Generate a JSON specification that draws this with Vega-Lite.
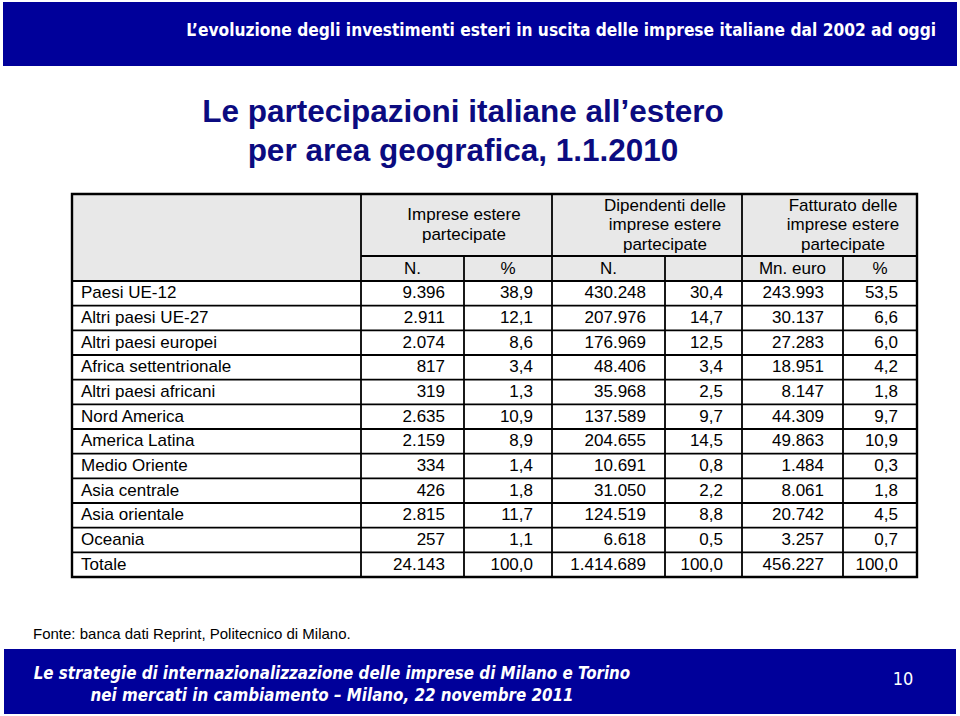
{
  "$schema": "https://vega.github.io/schema/vega-lite/v6.json",
  "width": 960,
  "height": 716,
  "autosize": {"type": "fit", "contains": "padding"},
  "padding": 0,
  "background": "white",
  "config": {
    "view": {"stroke": null},
    "locale": {"number": {"decimal": ",", "thousands": ".", "grouping": [3], "currency": ["€", ""]}}
  },
  "datasets": {
    "table": [
      {"row": 1, "region": "Paesi UE-12", "imp_n": 9396, "imp_pct": 38.9, "dip_n": 430248, "dip_pct": 30.4, "fat_mn": 243993, "fat_pct": 53.5},
      {"row": 2, "region": "Altri paesi UE-27", "imp_n": 2911, "imp_pct": 12.1, "dip_n": 207976, "dip_pct": 14.7, "fat_mn": 30137, "fat_pct": 6.6},
      {"row": 3, "region": "Altri paesi europei", "imp_n": 2074, "imp_pct": 8.6, "dip_n": 176969, "dip_pct": 12.5, "fat_mn": 27283, "fat_pct": 6.0},
      {"row": 4, "region": "Africa settentrionale", "imp_n": 817, "imp_pct": 3.4, "dip_n": 48406, "dip_pct": 3.4, "fat_mn": 18951, "fat_pct": 4.2},
      {"row": 5, "region": "Altri paesi africani", "imp_n": 319, "imp_pct": 1.3, "dip_n": 35968, "dip_pct": 2.5, "fat_mn": 8147, "fat_pct": 1.8},
      {"row": 6, "region": "Nord America", "imp_n": 2635, "imp_pct": 10.9, "dip_n": 137589, "dip_pct": 9.7, "fat_mn": 44309, "fat_pct": 9.7},
      {"row": 7, "region": "America Latina", "imp_n": 2159, "imp_pct": 8.9, "dip_n": 204655, "dip_pct": 14.5, "fat_mn": 49863, "fat_pct": 10.9},
      {"row": 8, "region": "Medio Oriente", "imp_n": 334, "imp_pct": 1.4, "dip_n": 10691, "dip_pct": 0.8, "fat_mn": 1484, "fat_pct": 0.3},
      {"row": 9, "region": "Asia centrale", "imp_n": 426, "imp_pct": 1.8, "dip_n": 31050, "dip_pct": 2.2, "fat_mn": 8061, "fat_pct": 1.8},
      {"row": 10, "region": "Asia orientale", "imp_n": 2815, "imp_pct": 11.7, "dip_n": 124519, "dip_pct": 8.8, "fat_mn": 20742, "fat_pct": 4.5},
      {"row": 11, "region": "Oceania", "imp_n": 257, "imp_pct": 1.1, "dip_n": 6618, "dip_pct": 0.5, "fat_mn": 3257, "fat_pct": 0.7},
      {"row": 12, "region": "Totale", "imp_n": 24143, "imp_pct": 100.0, "dip_n": 1414689, "dip_pct": 100.0, "fat_mn": 456227, "fat_pct": 100.0}
    ],
    "columns": [
      {"key": "imp_n", "edge": 2},
      {"key": "imp_pct", "edge": 3},
      {"key": "dip_n", "edge": 4},
      {"key": "dip_pct", "edge": 5},
      {"key": "fat_mn", "edge": 6},
      {"key": "fat_pct", "edge": 7}
    ],
    "edges": [
      {"edge": 1, "top": -2},
      {"edge": 2, "top": -1},
      {"edge": 3, "top": -2},
      {"edge": 4, "top": -1},
      {"edge": 5, "top": -2},
      {"edge": 6, "top": -1}
    ],
    "header": [
      {"text": "Imprese estere\npartecipate", "col": 2, "row": -1.5, "lines": 2},
      {"text": "Dipendenti delle\nimprese estere\npartecipate", "col": 4, "row": -1.5, "lines": 3},
      {"text": "Fatturato delle\nimprese estere\npartecipate", "col": 6, "row": -1.5, "lines": 3},
      {"text": "N.", "col": 1.5, "row": -0.5, "lines": 1},
      {"text": "%", "col": 2.5, "row": -0.5, "lines": 1},
      {"text": "N.", "col": 3.5, "row": -0.5, "lines": 1},
      {"text": "Mn. euro", "col": 5.5, "row": -0.5, "lines": 1},
      {"text": "%", "col": 6.5, "row": -0.5, "lines": 1}
    ]
  },
  "resolve": {"scale": {"x": "independent", "y": "independent"}},
  "layer": [
    {
      "layer": [
        {
          "data": {"values": [{}]},
          "mark": {"type": "rect", "fill": "#00009a"},
          "encoding": {
            "x": {"datum": 3, "type": "quantitative", "scale": {"domain": [0, 960], "range": [0, 960], "nice": false, "zero": false}, "axis": null},
            "x2": {"datum": 957},
            "y": {"datum": 2, "type": "quantitative", "scale": {"domain": [0, 716], "range": [0, 716], "nice": false, "zero": false}, "axis": null},
            "y2": {"datum": 66}
          }
        },
        {
          "data": {"values": [{}]},
          "mark": {"type": "rect", "fill": "#00009a"},
          "encoding": {
            "x": {"datum": 4, "type": "quantitative", "axis": null},
            "x2": {"datum": 956},
            "y": {"datum": 649, "type": "quantitative", "axis": null},
            "y2": {"datum": 714}
          }
        },
        {
          "data": {"values": [{}]},
          "mark": {"type": "text", "text": "L’evoluzione degli investimenti esteri in uscita delle imprese italiane dal 2002 ad oggi", "font": "DejaVu Sans Condensed, sans-serif", "fontWeight": "bold", "fontSize": 17.2, "color": "white", "align": "right", "baseline": "middle"},
          "encoding": {
            "x": {"datum": 936, "type": "quantitative", "axis": null},
            "y": {"datum": 31, "type": "quantitative", "axis": null}
          }
        },
        {
          "data": {"values": [{}]},
          "mark": {"type": "text", "text": ["Le partecipazioni italiane all’estero", "per area geografica, 1.1.2010"], "font": "Liberation Sans", "fontWeight": "bold", "fontSize": 31.5, "lineHeight": 39, "color": "#0b0b80", "align": "center", "baseline": "middle"},
          "encoding": {
            "x": {"datum": 463, "type": "quantitative", "axis": null},
            "y": {"datum": 113, "type": "quantitative", "axis": null}
          }
        },
        {
          "data": {"values": [{}]},
          "mark": {"type": "text", "text": "Fonte: banca dati Reprint, Politecnico di Milano.", "font": "Liberation Sans", "fontSize": 15, "color": "black", "align": "left", "baseline": "middle"},
          "encoding": {
            "x": {"datum": 33, "type": "quantitative", "axis": null},
            "y": {"datum": 634, "type": "quantitative", "axis": null}
          }
        },
        {
          "data": {"values": [{}]},
          "mark": {"type": "text", "text": ["Le strategie di internazionalizzazione delle imprese di Milano e Torino", "nei mercati in cambiamento – Milano, 22 novembre 2011"], "font": "DejaVu Sans Condensed, sans-serif", "fontWeight": "bold", "fontStyle": "italic", "fontSize": 16.8, "lineHeight": 22, "color": "white", "align": "center", "baseline": "middle"},
          "encoding": {
            "x": {"datum": 332, "type": "quantitative", "axis": null},
            "y": {"datum": 674, "type": "quantitative", "axis": null}
          }
        },
        {
          "data": {"values": [{}]},
          "mark": {"type": "text", "text": "10", "font": "DejaVu Sans Condensed, sans-serif", "fontSize": 18, "color": "white", "align": "center", "baseline": "middle"},
          "encoding": {
            "x": {"datum": 903, "type": "quantitative", "axis": null},
            "y": {"datum": 680, "type": "quantitative", "axis": null}
          }
        }
      ]
    },
    {
      "layer": [
        {
          "data": {"values": [{}]},
          "mark": {"type": "rect", "fill": "#e8e8e8"},
          "encoding": {
            "x": {"datum": 0, "type": "quantitative", "scale": {"domain": [0, 1, 2, 3, 4, 5, 6, 7], "range": [72, 361, 464, 552, 665, 742, 843, 917], "nice": false, "zero": false}, "axis": null},
            "x2": {"datum": 7},
            "y": {"datum": -2, "type": "quantitative", "scale": {"domain": [-2, -1, 0, 12], "range": [194, 256, 281, 577], "nice": false, "zero": false}, "axis": null},
            "y2": {"datum": 0}
          }
        },
        {
          "data": {"values": [{}]},
          "mark": {"type": "rule", "color": "black", "strokeWidth": 1.8},
          "encoding": {
            "x": {"datum": 1, "type": "quantitative", "axis": null},
            "x2": {"datum": 7},
            "y": {"datum": -1, "type": "quantitative", "axis": null}
          }
        },
        {
          "data": {"values": [{}]},
          "mark": {"type": "rule", "color": "black", "strokeWidth": 1.8},
          "encoding": {
            "x": {"datum": 0, "type": "quantitative", "axis": null},
            "x2": {"datum": 7},
            "y": {"datum": 0, "type": "quantitative", "axis": null}
          }
        },
        {
          "data": {"name": "table"},
          "mark": {"type": "rule", "color": "black", "strokeWidth": 1.8},
          "encoding": {
            "x": {"datum": 0, "type": "quantitative", "axis": null},
            "x2": {"datum": 7},
            "y": {"field": "row", "type": "quantitative", "axis": null}
          }
        },
        {
          "data": {"name": "edges"},
          "mark": {"type": "rule", "color": "black", "strokeWidth": 1.8},
          "encoding": {
            "x": {"field": "edge", "type": "quantitative", "axis": null},
            "y": {"field": "top", "type": "quantitative", "axis": null},
            "y2": {"datum": 12}
          }
        },
        {
          "data": {"values": [{}]},
          "mark": {"type": "rect", "fill": null, "fillOpacity": 0, "stroke": "black", "strokeWidth": 2.4},
          "encoding": {
            "x": {"datum": 0, "type": "quantitative", "axis": null},
            "x2": {"datum": 7},
            "y": {"datum": -2, "type": "quantitative", "axis": null},
            "y2": {"datum": 12}
          }
        },
        {
          "data": {"name": "header"},
          "transform": [{"filter": "datum.lines == 3"}],
          "mark": {"type": "text", "font": "Liberation Sans", "fontSize": 17, "lineHeight": 19.5, "lineBreak": "\n", "color": "black", "align": "center", "baseline": "middle", "dy": -19.5},
          "encoding": {
            "x": {"field": "col", "type": "quantitative", "axis": null},
            "y": {"field": "row", "type": "quantitative", "axis": null},
            "text": {"field": "text", "type": "nominal"}
          }
        },
        {
          "data": {"name": "header"},
          "transform": [{"filter": "datum.lines == 2"}],
          "mark": {"type": "text", "font": "Liberation Sans", "fontSize": 17, "lineHeight": 19.5, "lineBreak": "\n", "color": "black", "align": "center", "baseline": "middle", "dy": -9.75},
          "encoding": {
            "x": {"field": "col", "type": "quantitative", "axis": null},
            "y": {"field": "row", "type": "quantitative", "axis": null},
            "text": {"field": "text", "type": "nominal"}
          }
        },
        {
          "data": {"name": "header"},
          "transform": [{"filter": "datum.lines == 1"}],
          "mark": {"type": "text", "font": "Liberation Sans", "fontSize": 17, "color": "black", "align": "center", "baseline": "middle"},
          "encoding": {
            "x": {"field": "col", "type": "quantitative", "axis": null},
            "y": {"field": "row", "type": "quantitative", "axis": null},
            "text": {"field": "text", "type": "nominal"}
          }
        },
        {
          "data": {"name": "table"},
          "mark": {"type": "text", "font": "Liberation Sans", "fontSize": 17, "color": "black", "align": "left", "baseline": "middle", "dx": 9, "dy": -12.3},
          "encoding": {
            "x": {"datum": 0, "type": "quantitative", "axis": null},
            "y": {"field": "row", "type": "quantitative", "axis": null},
            "text": {"field": "region", "type": "nominal"}
          }
        },
        {
          "data": {"name": "table"},
          "transform": [
            {"fold": ["imp_n", "dip_n", "fat_mn"], "as": ["key", "value"]},
            {"lookup": "key", "from": {"data": {"name": "columns"}, "key": "key", "fields": ["edge"]}}
          ],
          "mark": {"type": "text", "font": "Liberation Sans", "fontSize": 17, "color": "black", "align": "right", "baseline": "middle", "dx": -19, "dy": -12.3},
          "encoding": {
            "x": {"field": "edge", "type": "quantitative", "axis": null},
            "y": {"field": "row", "type": "quantitative", "axis": null},
            "text": {"field": "value", "type": "quantitative", "format": ",.0f"}
          }
        },
        {
          "data": {"name": "table"},
          "transform": [
            {"fold": ["imp_pct", "dip_pct", "fat_pct"], "as": ["key", "value"]},
            {"lookup": "key", "from": {"data": {"name": "columns"}, "key": "key", "fields": ["edge"]}}
          ],
          "mark": {"type": "text", "font": "Liberation Sans", "fontSize": 17, "color": "black", "align": "right", "baseline": "middle", "dx": -19, "dy": -12.3},
          "encoding": {
            "x": {"field": "edge", "type": "quantitative", "axis": null},
            "y": {"field": "row", "type": "quantitative", "axis": null},
            "text": {"field": "value", "type": "quantitative", "format": ",.1f"}
          }
        }
      ]
    }
  ]
}
